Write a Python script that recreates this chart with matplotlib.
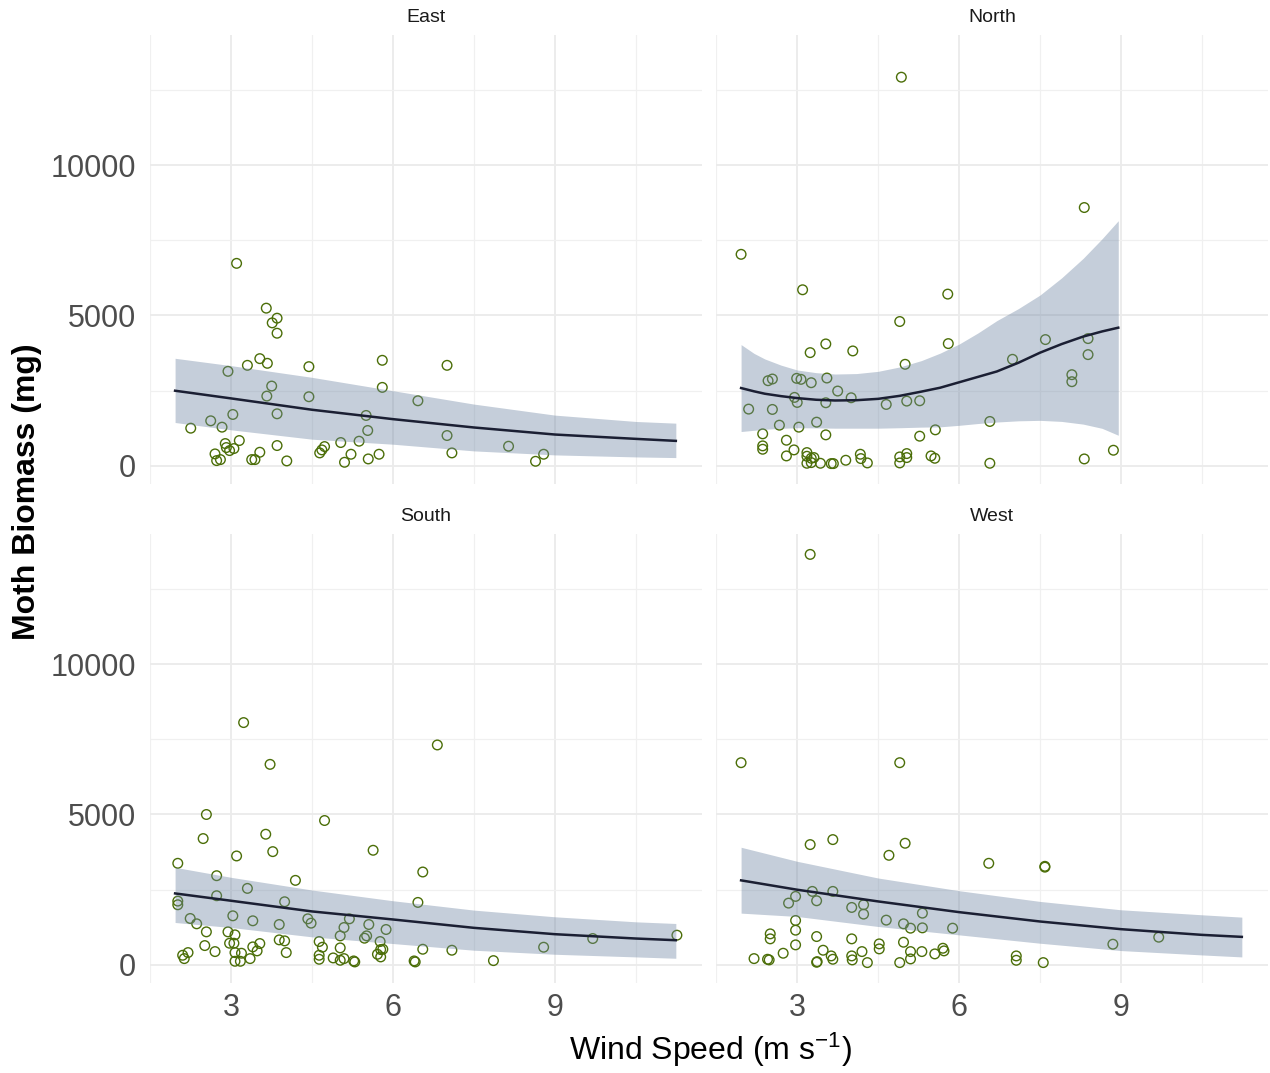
import numpy as np
import matplotlib.pyplot as plt

plt.rcParams['font.family'] = ['Liberation Sans', 'DejaVu Sans']
plt.rcParams['mathtext.fontset'] = 'custom'
plt.rcParams['mathtext.rm'] = 'Liberation Sans'
plt.rcParams['mathtext.it'] = 'Liberation Sans:italic'
plt.rcParams['mathtext.bf'] = 'Liberation Sans:bold'

# East
east_x = [3.10, 3.65, 3.85, 3.76, 3.85, 3.53, 3.67, 3.30, 2.94, 4.44, 5.80, 7.00, 3.75, 3.66, 4.44,
          5.80, 6.46, 3.03, 3.85, 5.50, 2.62, 2.25, 2.83, 5.53, 7.00, 8.14, 2.89, 3.15, 2.91, 3.05,
          2.97, 2.70, 3.85, 3.53, 2.73, 2.80, 3.38, 3.44, 4.03, 4.64, 4.68, 4.73, 5.03, 5.37, 5.22,
          5.10, 5.54, 5.74, 7.09, 8.64, 8.79]
east_y = [6733, 5244, 4911, 4755, 4411, 3566, 3411, 3344, 3144, 3300, 3511, 3344, 2655, 2322, 2300,
          2611, 2166, 1711, 1733, 1678, 1500, 1255, 1289, 1178, 1011, 655, 744, 844, 611, 578,
          511, 400, 678, 455, 178, 211, 211, 211, 167, 433, 533, 644, 778, 822, 389,
          122, 233, 389, 433, 155, 389]

# North
north_x = [1.96, 8.32, 3.10, 5.79, 4.90, 3.53, 3.24, 4.03, 5.80, 5.00, 7.60, 6.99, 8.39, 8.39, 8.09,
           8.09, 2.46, 2.54, 2.99, 3.07, 3.26, 3.55, 3.75, 4.00, 2.95, 3.00, 3.53, 4.65, 5.03, 5.27,
           2.10, 2.54, 2.67, 3.03, 3.36, 6.57, 5.56, 2.36, 3.53, 5.27, 2.80, 2.36, 2.36, 2.94, 2.80,
           3.18, 3.18, 3.26, 3.31, 3.18, 3.26, 3.43, 3.63, 3.67, 3.90, 4.17, 4.18, 4.30, 4.90, 5.03,
           5.03, 4.90, 5.48, 5.55, 6.57, 8.32, 8.86, 4.93]
north_y = [7033, 8588, 5855, 5711, 4800, 4055, 3766, 3822, 4066, 3378, 4200, 3544, 4233, 3700, 3033,
           2800, 2833, 2889, 2911, 2878, 2766, 2922, 2489, 2266, 2278, 2111, 2100, 2044, 2155, 2166,
           1889, 1878, 1355, 1289, 1455, 1478, 1200, 1067, 1033, 989, 855, 667, 555, 533, 333,
           444, 322, 255, 278, 89, 111, 89, 78, 78, 189, 389, 244, 100, 300, 411,
           278, 100, 333, 255, 89, 233, 522, 12920]

# South
south_x = [3.23, 6.82, 3.72, 2.54, 4.73, 2.48, 3.64, 3.77, 3.10, 5.63, 2.01, 6.55, 2.73, 4.19, 3.30,
           2.73, 6.46, 2.01, 2.01, 3.99, 2.24, 2.36, 3.03, 3.40, 3.89, 4.42, 4.48, 5.19, 5.09, 5.55,
           5.87, 5.02, 5.51, 5.47, 2.54, 2.94, 3.07, 2.97, 3.05, 3.53, 3.48, 3.40, 3.89, 3.99, 4.02,
           4.63, 4.69, 4.63, 4.63, 5.02, 4.89, 5.02, 5.09, 5.27, 5.29, 2.51, 2.70, 2.10, 2.13, 2.20,
           3.07, 3.19, 3.07, 3.17, 3.35, 5.76, 5.77, 5.81, 5.71, 5.77, 6.55, 6.39, 6.41, 7.09, 7.86,
           8.79, 9.70, 11.26]
south_y = [8055, 7311, 6666, 5000, 4800, 4200, 4344, 3766, 3622, 3811, 3378, 3089, 2966, 2811, 2544,
           2300, 2078, 2122, 2000, 2100, 1544, 1367, 1633, 1467, 1344, 1533, 1389, 1533, 1244, 1344,
           1178, 967, 967, 889, 1100, 1100, 1000, 722, 722, 711, 467, 600, 833, 800, 411,
           778, 589, 322, 189, 567, 233, 155, 211, 133, 100, 644, 444, 322, 211, 411,
           411, 389, 122, 122, 211, 778, 511, 522, 355, 267, 522, 133, 100, 489, 144,
           589, 878, 989]

# West
west_x = [3.24, 1.96, 4.90, 3.24, 3.66, 5.00, 4.70, 6.55, 7.59, 7.59, 3.28, 3.66, 2.97, 2.84, 3.36,
          4.01, 4.23, 4.23, 5.32, 4.65, 4.97, 5.10, 5.32, 5.88, 2.97, 2.97, 2.97, 2.50, 2.50, 3.36,
          4.01, 4.52, 4.52, 4.97, 5.10, 5.31, 5.55, 5.70, 5.72, 3.48, 3.63, 3.66, 4.01, 4.02, 4.20,
          4.30, 4.90, 5.10, 2.74, 2.20, 2.45, 2.48, 3.36, 3.37, 7.06, 7.06, 7.56, 8.85, 9.70]
west_y = [13644, 6722, 6722, 4000, 4166, 4044, 3644, 3378, 3278, 3250, 2444, 2444, 2278, 2055, 2133,
          1911, 2000, 1689, 1722, 1489, 1367, 1222, 1233, 1222, 1478, 1155, 667, 1033, 867, 944,
          867, 700, 533, 755, 444, 444, 367, 555, 467, 489, 300, 189, 300, 167, 444,
          78, 78, 200, 389, 211, 189, 167, 89, 110, 300, 155, 78, 689, 922]

# fitted curves and bands
fit_x = [1.96, 3.0, 4.5, 6.0, 7.5, 9.0, 10.5, 11.24]
east_fit = [2500, 2244, 1867, 1555, 1278, 1044, 900, 833]
east_hi = [3578, 3333, 2944, 2500, 2055, 1689, 1478, 1422]
east_lo = [1444, 1200, 889, 722, 500, 367, 300, 278]
south_fit = [2377, 2133, 1778, 1511, 1233, 1022, 878, 822]
south_hi = [3244, 2911, 2489, 2133, 1822, 1600, 1433, 1378]
south_lo = [1411, 1244, 933, 711, 489, 355, 267, 222]
west_fit = [2811, 2500, 2111, 1755, 1444, 1189, 1000, 933]
west_hi = [3911, 3444, 2889, 2467, 2111, 1833, 1667, 1589]
west_lo = [1722, 1611, 1278, 1000, 722, 478, 333, 267]

north_fit_x = [1.96, 2.2, 2.4, 2.7, 3.0, 3.35, 3.7, 4.1, 4.5, 4.9, 5.3,
               5.65, 6.0, 6.35, 6.7, 7.1, 7.5, 7.9, 8.3, 8.65, 8.95]
north_fit = [2589, 2480, 2400, 2320, 2255, 2200, 2175, 2185, 2230, 2330, 2470,
             2600, 2780, 2960, 3140, 3430, 3764, 4050, 4300, 4470, 4595]
north_hi = [4033, 3740, 3555, 3350, 3189, 3100, 3055, 3070, 3144, 3290, 3500,
            3750, 4050, 4420, 4830, 5230, 5680, 6250, 6900, 7550, 8150]
north_lo = [1144, 1185, 1220, 1250, 1270, 1265, 1255, 1255, 1255, 1270, 1290,
            1300, 1350, 1410, 1460, 1500, 1515, 1480, 1390, 1250, 1020]

panels = [
    ("East", east_x, east_y, fit_x, east_fit, east_lo, east_hi),
    ("North", north_x, north_y, north_fit_x, north_fit, north_lo, north_hi),
    ("South", south_x, south_y, fit_x, south_fit, south_lo, south_hi),
    ("West", west_x, west_y, fit_x, west_fit, west_lo, west_hi),
]

fig = plt.figure(figsize=(12.7, 10.73), dpi=100)
W, H = 1270, 1073
# panel boxes in pixels: left, top, right, bottom
boxes = [(150, 35, 702, 484), (716, 35, 1268, 484),
         (150, 534, 702, 983), (716, 534, 1268, 983)]

for i, (name, xs, ys, fx, fy, flo, fhi) in enumerate(panels):
    l, t, r, b = boxes[i]
    ax = fig.add_axes([l / W, 1 - b / H, (r - l) / W, (b - t) / H])
    ax.set_xlim(1.495, 11.725)
    ax.set_ylim(-600, 14322)
    ax.set_xticks([3, 6, 9])
    ax.set_xticks([1.5, 4.5, 7.5, 10.5], minor=True)
    ax.set_yticks([0, 5000, 10000])
    ax.set_yticks([2500, 7500, 12500], minor=True)
    ax.grid(True, which='major', color='#ebebeb', linewidth=1.3)
    ax.grid(True, which='minor', color='#f0f0f0', linewidth=0.9)
    ax.set_axisbelow(True)
    for s in ax.spines.values():
        s.set_visible(False)
    ax.tick_params(which='both', length=0, labelsize=22, labelcolor='#4d4d4d')
    ax.tick_params(axis='y', pad=10)
    ax.tick_params(axis='x', pad=7)
    if i % 2 == 1:
        ax.tick_params(axis='y', labelleft=False)
    if i < 2:
        ax.tick_params(axis='x', labelbottom=False)

    ax.scatter(xs, ys, s=48, facecolors='none', edgecolors='#4b6e08', linewidths=1.0, zorder=2)
    ax.fill_between(fx, flo, fhi, color='#6e85a3', alpha=0.4, linewidth=0, zorder=3)
    ax.plot(fx, fy, color='#1b1f33', linewidth=1.8, zorder=4)
    ax.set_title(name, fontsize=14, pad=9, color='#1a1a1a')

fig.text(27 / W, 1 - 492 / H, "Moth Biomass (mg)", rotation=90, fontsize=23,
         fontweight='bold', ha='center', va='center')
fig.text(710 / W, 1 - 1050 / H, "Wind Speed (m s$^{-1}$)", fontsize=23,
         ha='center', va='center')

fig.savefig("out.png", dpi=100, facecolor='white')
